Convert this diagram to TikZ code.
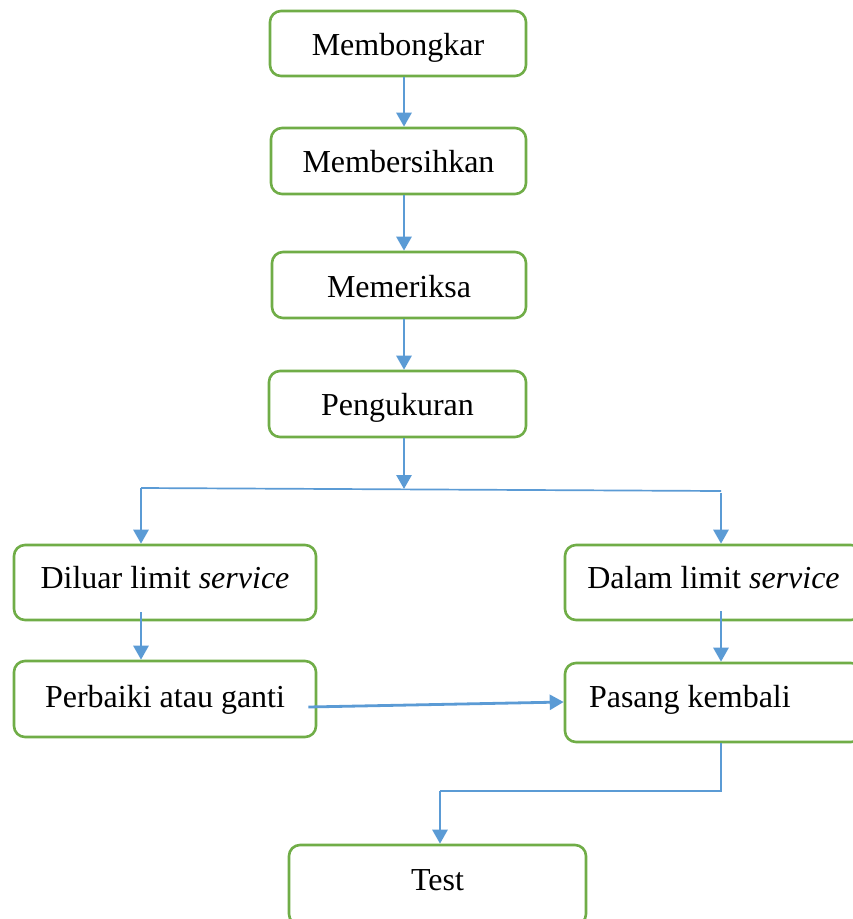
\documentclass[tikz,border=0pt]{standalone}
\usepackage{fontspec}
\setmainfont{Liberation Serif}
\usetikzlibrary{arrows.meta}
\definecolor{boxgreen}{RGB}{112,173,71}
\definecolor{lineblue}{RGB}{91,155,213}
\begin{document}
\begin{tikzpicture}[x=1pt,y=-1pt,
  box/.style={draw=boxgreen,line width=2.6pt,rounded corners=11pt,fill=white,
    inner sep=0pt,text height=22pt,text depth=7pt,font=\fontsize{32}{38}\selectfont},
  arr/.style={draw=lineblue,line width=2.8pt,-{Triangle[width=15pt,length=14pt]}},
  thin/.style={draw=lineblue,line width=1.7pt}]
\useasboundingbox (0,0) rectangle (853,919);
\clip (0,0) rectangle (853,919);
\fill[white] (0,0) rectangle (853,919);
\node[box,minimum width=256pt,minimum height=65pt] (b1) at (398,43.5) {\raisebox{-4pt}{Membongkar}};
\node[box,minimum width=255pt,minimum height=66pt] (b2) at (398.5,161) {\raisebox{-4pt}{Membersihkan}};
\node[box,minimum width=254pt,minimum height=66pt] (b3) at (399,285) {\raisebox{-5pt}{Memeriksa}};
\node[box,minimum width=257pt,minimum height=66pt] (b4) at (397.5,404) {\raisebox{-4pt}{Pengukuran}};
\node[box,minimum width=302pt,minimum height=75pt] (dl) at (165,582.5) {\raisebox{2pt}{Diluar limit \textit{service}}};
\node[box,minimum width=297pt,minimum height=75pt] (dm) at (713.5,582.5) {\raisebox{2pt}{Dalam limit \textit{service}}};
\node[box,minimum width=302pt,minimum height=76pt] (pg) at (165,699) {\raisebox{-1pt}{Perbaiki atau ganti}};
\node[box,minimum width=297pt,minimum height=79pt] (pk) at (713.5,702.5) {\raisebox{3pt}{\makebox[249pt][l]{Pasang kembali}}};
\node[box,minimum width=297pt,minimum height=80pt] (ts) at (437.5,885) {\raisebox{2pt}{Test}};
\coordinate (cx) at (404,0);
\coordinate (fork) at (404,489);
\coordinate (forkL) at (141,488);
\coordinate (forkR) at (721,491);
\coordinate (rtop) at (721,493);
\coordinate (elbowR) at (721,791);
\coordinate (elbowL) at (440,791);
\draw[arr] (b1.south -| cx) -- (b2.north -| cx);
\draw[arr] (b2.south -| cx) -- (b3.north -| cx);
\draw[arr] (b3.south -| cx) -- (b4.north -| cx);
\draw[arr] (b4.south -| cx) -- (fork);
\draw[thin] (forkL) -- (forkR);
\draw[arr] (forkL) -- (dl.north -| forkL);
\draw[arr] (rtop) -- (dm.north -| rtop);
\draw[arr] ([yshift=9pt]dl.south -| forkL) -- (pg.north -| forkL);
\draw[arr] ([yshift=10pt]dm.south -| rtop) -- (pk.north -| rtop);
\draw[arr] ([xshift=-9pt,yshift=-8pt]pg.east) -- ([yshift=0.5pt]pk.west);
\draw[thin] (pk.south -| elbowR) -- (elbowR) -- (elbowL);
\draw[arr] (elbowL) -- (ts.north -| elbowL);
\end{tikzpicture}
\end{document}
